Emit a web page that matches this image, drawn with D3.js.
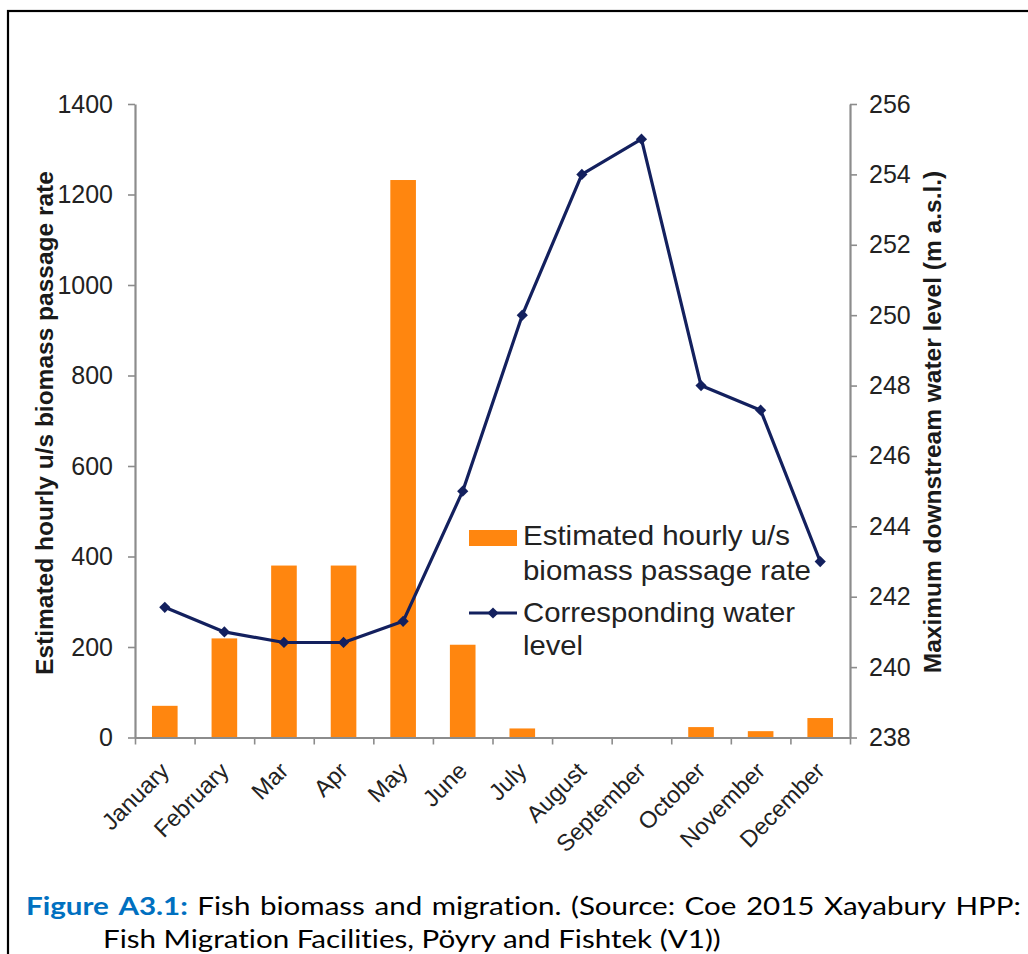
<!DOCTYPE html>
<html>
<head>
<meta charset="utf-8">
<script src="https://cdn.jsdelivr.net/npm/d3@7"></script>
<style>
  html, body { margin: 0; padding: 0; background: #fff; }
  svg { display: block; }
</style>
</head>
<body>
<svg id="chart" width="1028" height="954"></svg>
<script>
const months = ["January","February","Mar","Apr","May","June","July","August","September","October","November","December"];
const biomass = [70, 219, 380, 380, 1232, 205, 20, 0, 0, 23, 14, 43];
const waterLevel = [241.7, 241.0, 240.7, 240.7, 241.3, 245.0, 250.0, 254.0, 255.0, 248.0, 247.3, 243.0];
const leftTicks = [0, 200, 400, 600, 800, 1000, 1200, 1400];
const rightTicks = [238, 240, 242, 244, 246, 248, 250, 252, 254, 256];
const leftTitle = "Estimated hourly u/s biomass passage rate";
const rightTitle = "Maximum downstream water level (m a.s.l.)";
const legendBar = ["Estimated hourly u/s", "biomass passage rate"];
const legendLine = ["Corresponding water", "level"];
const captionLabel = ["Figure", "A3.1:"];
const captionLine1 = ["Fish", "biomass", "and", "migration.", "(Source:", "Coe", "2015", "Xayabury", "HPP:"];
const captionLine2 = "Fish Migration Facilities, Pöyry and Fishtek (V1))";

const svg = d3.select("#chart");
const L = 135, R = 850, T = 104, B = 737.5;
const ORANGE = "#ff860f", NAVY = "#13205e", AXIS = "#8c8c8c", TXT = "#222";
const FONT = "'Liberation Sans', Arial, sans-serif";

// frame
svg.append("rect").attr("x", 8).attr("y", 11).attr("width", 1100).attr("height", 1100)
  .attr("fill", "none").attr("stroke", "#000").attr("stroke-width", 2.2);

const x = d3.scaleBand().domain(months).range([L, R]).paddingInner(0.57).paddingOuter(0.285);
const xEdge = d3.scaleLinear().domain([0, months.length]).range([L, R]);
const yL = d3.scaleLinear().domain([0, 1400]).range([B, T]);
const yR = d3.scaleLinear().domain([238, 256]).range([B, T]);

// bars
svg.append("g").selectAll("rect").data(biomass).join("rect")
  .attr("x", (d, i) => x(months[i]))
  .attr("width", x.bandwidth())
  .attr("y", d => yL(d))
  .attr("height", d => yL(0) - yL(d))
  .attr("fill", ORANGE);

function styleAxis(g) {
  g.select(".domain").attr("stroke", AXIS).attr("stroke-width", 2.2);
  g.selectAll(".tick line").attr("stroke", AXIS).attr("stroke-width", 1.6);
  g.selectAll(".tick text").attr("fill", TXT).style("font-family", FONT).style("font-size", "25px");
}

// left axis
const gL = svg.append("g").attr("transform", `translate(${L},0)`)
  .call(d3.axisLeft(yL).tickValues(leftTicks).tickFormat(d3.format("d"))
    .tickSize(7).tickSizeOuter(0).tickPadding(15));
styleAxis(gL);

// right axis
const gR = svg.append("g").attr("transform", `translate(${R},0)`)
  .call(d3.axisRight(yR).tickValues(rightTicks).tickFormat(d3.format("d"))
    .tickSize(7).tickSizeOuter(0).tickPadding(12));
styleAxis(gR);

// bottom axis (ticks at category boundaries)
const gB = svg.append("g").attr("transform", `translate(0,${B})`)
  .call(d3.axisBottom(xEdge).tickValues(d3.range(months.length + 1)).tickSize(7).tickSizeOuter(0).tickFormat(""));
styleAxis(gB);

// x labels
svg.append("g").selectAll("text").data(months).join("text")
  .attr("transform", d => `translate(${x(d) + x.bandwidth() / 2},${B + 29}) rotate(-45)`)
  .attr("text-anchor", "end")
  .attr("dy", "0.35em")
  .attr("fill", TXT)
  .style("font-family", FONT).style("font-size", "23.5px")
  .text(d => d);

// line
const line = d3.line().x((d, i) => x(months[i]) + x.bandwidth() / 2).y(d => yR(d));
svg.append("path").datum(waterLevel).attr("d", line)
  .attr("fill", "none").attr("stroke", NAVY).attr("stroke-width", 3.2).attr("stroke-linejoin", "round");
const diamond = d3.symbol().type(d3.symbolDiamond2 || d3.symbolDiamond).size(80);
svg.append("g").selectAll("path").data(waterLevel).join("path")
  .attr("transform", (d, i) => `translate(${x(months[i]) + x.bandwidth() / 2},${yR(d)})`)
  .attr("d", diamond).attr("fill", NAVY);

// axis titles
svg.append("text").attr("transform", "translate(53,423) rotate(-90)")
  .attr("text-anchor", "middle").attr("fill", "#1a1a1a")
  .style("font-family", FONT).style("font-size", "24.5px").style("font-weight", "bold")
  .text(leftTitle);
svg.append("text").attr("transform", "translate(941,422) rotate(-90)")
  .attr("text-anchor", "middle").attr("fill", "#1a1a1a")
  .style("font-family", FONT).style("font-size", "24.5px").style("font-weight", "bold")
  .text(rightTitle);

// legend
const lg = svg.append("g");
lg.append("rect").attr("x", 469).attr("y", 530).attr("width", 48).attr("height", 16).attr("fill", ORANGE);
lg.append("line").attr("x1", 469).attr("x2", 517).attr("y1", 613).attr("y2", 613)
  .attr("stroke", NAVY).attr("stroke-width", 3.2);
lg.append("path").attr("transform", "translate(493,613)").attr("d", diamond).attr("fill", NAVY);
const legendRows = [[legendBar[0], 545, 267], [legendBar[1], 580, 288], [legendLine[0], 622, 272], [legendLine[1], 655, 60]];
lg.selectAll("text.lt").data(legendRows).join("text").attr("class", "lt")
  .attr("x", 523).attr("y", d => d[1]).attr("fill", TXT)
  .attr("textLength", d => d[2]).attr("lengthAdjust", "spacingAndGlyphs")
  .style("font-family", FONT).style("font-size", "28px")
  .text(d => d[0]);

// caption (horizontally stretched like the reference)
const CFONT = "Lato, 'Open Sans', sans-serif";
const CSIZE = "25px";
const l2 = svg.append("text").attr("fill", "#000")
  .style("font-family", CFONT).style("font-size", CSIZE).style("font-variant-ligatures", "none")
  .text(captionLine2);
const w2 = l2.node().getComputedTextLength();
const sx = 618 / w2;
l2.attr("transform", `translate(103,948) scale(${sx},1)`);

const cap = svg.append("g").attr("transform", `translate(0,915)`);
const words = [];
captionLabel.forEach(w => words.push({ w, blue: true }));
captionLine1.forEach(w => words.push({ w, blue: false }));
const spans = words.map(o => cap.append("text").text(o.w)
  .attr("fill", o.blue ? "#0070c0" : "#000")
  .style("font-family", CFONT).style("font-size", CSIZE).style("font-variant-ligatures", "none")
  .style("font-weight", o.blue ? "bold" : "normal"));
const widths = spans.map(s => s.node().getComputedTextLength() * sx);
const x0 = 26, x1 = 1021;
const gap = (x1 - x0 - d3.sum(widths)) / (words.length - 1);
let cx = x0;
spans.forEach((s, i) => { s.attr("transform", `translate(${cx},0) scale(${sx},1)`); cx += widths[i] + gap; });
</script>
</body>
</html>
